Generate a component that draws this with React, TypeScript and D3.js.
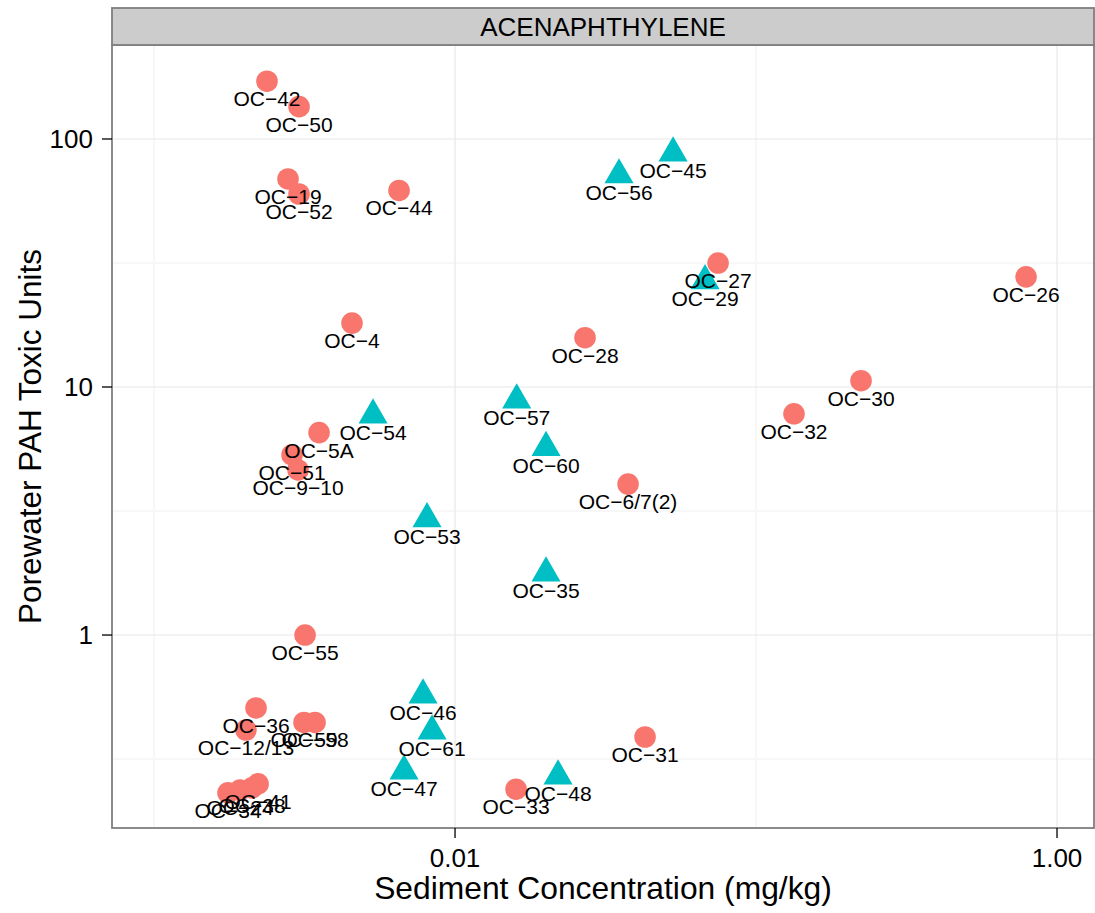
import React from "react";
import * as d3 from "d3";

// ---- data ----
const circleLabels = [
  "OC\u221242", "OC\u221250", "OC\u221219", "OC\u221252", "OC\u221244", "OC\u221227", "OC\u221226",
  "OC\u22124", "OC\u221228", "OC\u221230", "OC\u221232", "OC\u22125A", "OC\u221251", "OC\u22129\u221210",
  "OC\u22126/7(2)", "OC\u221255", "OC\u221236", "OC\u221212/13", "OC\u221259", "OC\u221258", "OC\u221231",
  "OC\u221233", "OC\u221234", "OC\u221224", "OC\u221238", "OC\u221241",
];
const circleSediment = [
  0.002373, 0.003032, 0.002787, 0.003032, 0.006516, 0.07479, 0.789,
  0.004547, 0.02703, 0.2233, 0.1337, 0.003534, 0.002874, 0.003009,
  0.03757, 0.003175, 0.002182, 0.002021, 0.00315, 0.003426, 0.04279,
  0.01595, 0.001761, 0.001931, 0.002116, 0.002216,
];
const circlePorewater = [
  171, 135, 69, 60, 62, 31.6, 27.8,
  18.1, 15.8, 10.6, 7.8, 6.55, 5.32, 4.63,
  4.06, 1.0, 0.508, 0.414, 0.444, 0.444, 0.388,
  0.239, 0.231, 0.237, 0.242, 0.251,
];

const triangleLabels = [
  "OC\u221245", "OC\u221256", "OC\u221229", "OC\u221254", "OC\u221257", "OC\u221260",
  "OC\u221253", "OC\u221235", "OC\u221246", "OC\u221261", "OC\u221247", "OC\u221248",
];
const triangleSediment = [
  0.05302, 0.03506, 0.0677, 0.005341, 0.01603, 0.02006,
  0.008072, 0.02006, 0.00783, 0.008388, 0.00677, 0.02199,
];
const trianglePorewater = [
  87.8, 71.6, 26.8, 7.71, 8.86, 5.7,
  2.94, 1.778, 0.573, 0.41, 0.283, 0.27,
];

const xTicks = [0.01, 1];
const xTickLabels = ["0.01", "1.00"];
const xMinor = [0.001, 0.1];
const yTicks = [1, 10, 100];
const yTickLabels = ["1", "10", "100"];
const yMinor = [Math.sqrt(0.1), Math.sqrt(10), Math.sqrt(1000)];

const stripTitle = "ACENAPHTHYLENE";
const xTitle = "Sediment Concentration (mg/kg)";
const yTitle = "Porewater PAH Toxic Units";

// ---- layout ----
const W = 1095;
const H = 913;
const left = 112;
const right = 1094;
const top = 45;
const bottom = 828;
const stripTop = 8;
const FONT = "'Liberation Sans', Arial, Helvetica, sans-serif";
const RED = "#F8766D";
const CYAN = "#00BFC4";
const R = 10.8;

export default function App() {
  const x = d3.scaleLog().domain([0.000725, 1.327]).range([left, right]);
  const y = d3.scaleLog().domain([0.1667, 239.3]).range([bottom, top]);

  const triR = R * 1.555;
  const triX = R * 1.347;
  const triPath = (cx: number, cy: number) =>
    `M${cx},${cy - triR}L${cx + triX},${cy + triR / 2}L${cx - triX},${cy + triR / 2}Z`;

  const tri = triangleLabels.map((l, i) => ({ l, cx: x(triangleSediment[i]), cy: y(trianglePorewater[i]) }));
  const circ = circleLabels.map((l, i) => ({ l, cx: x(circleSediment[i]), cy: y(circlePorewater[i]) }));

  return (
    <svg
      width={W}
      height={H}
      style={{ position: "absolute", left: 0, top: 0, background: "#fff" }}
      fontFamily={FONT}
    >
      <rect x={0} y={0} width={W} height={H} fill="#fff" />
      {/* panel background */}
      <rect x={left} y={top} width={right - left} height={bottom - top} fill="#fff" />
      {/* minor grid */}
      {xMinor.map((v) => (
        <line key={"xm" + v} x1={x(v)} x2={x(v)} y1={top} y2={bottom} stroke="#F7F7F7" strokeWidth={2} />
      ))}
      {yMinor.map((v) => (
        <line key={"ym" + v} x1={left} x2={right} y1={y(v)} y2={y(v)} stroke="#F7F7F7" strokeWidth={2} />
      ))}
      {/* major grid */}
      {xTicks.map((v) => (
        <line key={"xg" + v} x1={x(v)} x2={x(v)} y1={top} y2={bottom} stroke="#E8E8E8" strokeWidth={1.2} />
      ))}
      {yTicks.map((v) => (
        <line key={"yg" + v} x1={left} x2={right} y1={y(v)} y2={y(v)} stroke="#E8E8E8" strokeWidth={1.2} />
      ))}

      {/* points */}
      {tri.map((d, i) => (
        <path key={"t" + i} d={triPath(d.cx, d.cy)} fill={CYAN} />
      ))}
      {circ.map((d, i) => (
        <circle key={"c" + i} cx={d.cx} cy={d.cy} r={R} fill={RED} />
      ))}

      {/* labels */}
      {tri.map((d, i) => (
        <text key={"tl" + i} x={d.cx} y={d.cy + 25} fontSize={21} textAnchor="middle" fill="#000">
          {d.l}
        </text>
      ))}
      {circ.map((d, i) => (
        <text key={"cl" + i} x={d.cx} y={d.cy + 25} fontSize={21} textAnchor="middle" fill="#000">
          {d.l}
        </text>
      ))}

      {/* panel border */}
      <rect x={left} y={top} width={right - left} height={bottom - top} fill="none" stroke="#7F7F7F" strokeWidth={1.8} />

      {/* strip */}
      <rect x={left} y={stripTop} width={right - left} height={top - stripTop} fill="#CCCCCC" stroke="#7F7F7F" strokeWidth={1.8} />
      <text x={(left + right) / 2} y={36} fontSize={26} textAnchor="middle" fill="#000">
        {stripTitle}
      </text>

      {/* x axis */}
      {xTicks.map((v, i) => (
        <g key={"xt" + v}>
          <line x1={x(v)} x2={x(v)} y1={bottom} y2={bottom + 10} stroke="#000" strokeWidth={1.3} />
          <text x={x(v)} y={867} fontSize={26} textAnchor="middle" fill="#000">
            {xTickLabels[i]}
          </text>
        </g>
      ))}
      <text x={(left + right) / 2} y={899} fontSize={31.8} textAnchor="middle" fill="#000">
        {xTitle}
      </text>

      {/* y axis */}
      {yTicks.map((v, i) => (
        <g key={"yt" + v}>
          <line x1={left - 10} x2={left} y1={y(v)} y2={y(v)} stroke="#000" strokeWidth={1.3} />
          <text x={93} y={y(v) + 9.3} fontSize={26} textAnchor="end" fill="#000">
            {yTickLabels[i]}
          </text>
        </g>
      ))}
      <text
        transform={`translate(41,${(top + bottom) / 2}) rotate(-90)`}
        fontSize={31.5}
        textAnchor="middle"
        fill="#000"
      >
        {yTitle}
      </text>
    </svg>
  );
}
